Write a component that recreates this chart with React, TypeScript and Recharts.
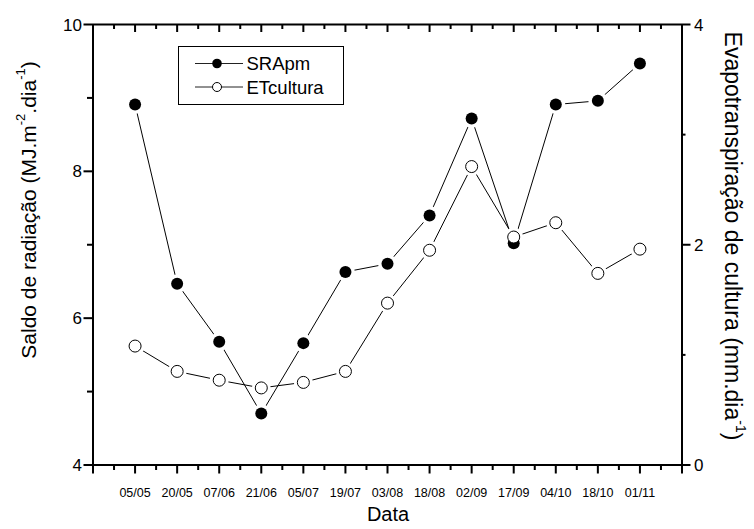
import React from 'react';
import { LineChart, Line, XAxis, YAxis, Legend } from 'recharts';

const dates = ['05/05', '20/05', '07/06', '21/06', '05/07', '19/07', '03/08', '18/08', '02/09', '17/09', '04/10', '18/10', '01/11'];
const sraPm = [8.91, 6.47, 5.68, 4.7, 5.66, 6.63, 6.74, 7.4, 8.72, 7.02, 8.91, 8.96, 9.47];
const etCultura = [1.08, 0.85, 0.77, 0.7, 0.75, 0.85, 1.47, 1.95, 2.71, 2.07, 2.2, 1.74, 1.96];
const leftTicks = [4, 5, 6, 7, 8, 9, 10];
const rightTicks = [0, 1, 2, 3, 4];
const legendItems = [
  { name: 'SRApm', filled: true },
  { name: 'ETcultura', filled: false },
];

const FONT = '"Liberation Sans", Arial, sans-serif';
const TW = 2; // tick / axis thickness

// categories sit at 0..12, the axis runs one step past each end, minor ticks at the halves
const xTicks: number[] = [];
for (let i = -2; i <= dates.length * 2; i++) xTicks.push(i / 2);

const data = dates.map((d, i) => ({ x: i, date: d, sra: sraPm[i], et: etCultura[i] }));

const bottomTick = (props: any) => {
  const x = Number(props.x);
  const y = Number(props.y);
  const v = props.payload.value;
  const major = Number.isInteger(v);
  const label = major && v >= 0 && v < dates.length ? dates[v] : '';
  return (
    <g key={`b${v}`}>
      <rect x={x - TW / 2} y={y} width={TW} height={major ? 8.5 : 5} fill="#000" />
      {label && (
        <text x={x} y={y + 32} textAnchor="middle" fontSize={12.5} fontFamily={FONT} fill="#000">
          {label}
        </text>
      )}
    </g>
  );
};

const topTick = (props: any) => {
  const x = Number(props.x);
  const y = Number(props.y);
  const major = Number.isInteger(props.payload.value);
  return <rect key={`t${props.payload.value}`} x={x - TW / 2} y={y} width={TW} height={major ? 7.5 : 4.5} fill="#000" />;
};

const leftTick = (props: any) => {
  const x = Number(props.x);
  const y = Number(props.y);
  const v = props.payload.value;
  const major = v % 2 === 0;
  const len = major ? 9.5 : 6;
  return (
    <g key={`l${v}`}>
      <rect x={x - len} y={y - TW / 2} width={len} height={TW} fill="#000" />
      {major && (
        <text x={x - 11} y={y + 6} textAnchor="end" fontSize={17} fontFamily={FONT} fill="#000">
          {v}
        </text>
      )}
    </g>
  );
};

const rightTick = (props: any) => {
  const x = Number(props.x);
  const y = Number(props.y);
  const v = props.payload.value;
  const major = v % 2 === 0;
  return (
    <g key={`r${v}`}>
      <rect x={x} y={y - TW / 2} width={major ? 8.5 : 3.5} height={TW} fill="#000" />
      {major && (
        <text x={x + 12} y={y + 6} textAnchor="start" fontSize={17} fontFamily={FONT} fill="#000">
          {v}
        </text>
      )}
    </g>
  );
};

const LeftTitle = () => (
  <text x={28} y={210} transform="rotate(-90 28 210)" textAnchor="middle" dominantBaseline="central" fontSize={21} fontFamily={FONT} fill="#000">
    Saldo de radiação (MJ.m<tspan dy={-8} fontSize={13}>-2</tspan>
    <tspan dy={8}>.dia</tspan>
    <tspan dy={-8} fontSize={13}>-1</tspan>
    <tspan dy={8}>)</tspan>
  </text>
);

const RightTitle = () => (
  <text x={733} y={236} transform="rotate(90 733 236)" textAnchor="middle" dominantBaseline="central" fontSize={23} fontFamily={FONT} fill="#000">
    Evapotranspiração de cultura (mm.dia<tspan dy={-8} fontSize={14}>-1</tspan>
    <tspan dy={8}>)</tspan>
  </text>
);

const XTitle = () => (
  <text x={388} y={521} textAnchor="middle" fontSize={20} fontFamily={FONT} fill="#000">
    Data
  </text>
);

// white ring under each marker so the lines stop short of the symbols
const Halo = (props: any) => {
  const { cx, cy, index } = props;
  return <circle key={`h${index}`} cx={cx} cy={cy} r={9.5} fill="#fff" />;
};
const FilledDot = (props: any) => {
  const { cx, cy, index } = props;
  return <circle key={`f${index}`} cx={cx} cy={cy} r={6} fill="#000" />;
};
const OpenDot = (props: any) => {
  const { cx, cy, index } = props;
  return <circle key={`o${index}`} cx={cx} cy={cy} r={6} fill="#fff" stroke="#000" strokeWidth={1} />;
};

const LegendBox = () => (
  <svg width={166} height={59} style={{ display: 'block' }}>
    <rect x={0.5} y={0.5} width={165} height={58} fill="#fff" stroke="#000" strokeWidth={1} />
    {legendItems.map((item, i) => {
      const cy = 17.5 + i * 23.5;
      return (
        <g key={item.name}>
          <line x1={17} x2={65} y1={cy} y2={cy} stroke="#222" strokeWidth={1} />
          {item.filled ? (
            <circle cx={39} cy={cy} r={4.8} fill="#000" />
          ) : (
            <circle cx={39} cy={cy} r={4.5} fill="#fff" stroke="#000" strokeWidth={1} />
          )}
          <text x={68.5} y={cy + 6.5} fontSize={18.5} fontFamily={FONT} fill="#000">
            {item.name}
          </text>
        </g>
      );
    })}
  </svg>
);

export default function App() {
  return (
    <div style={{ position: 'absolute', left: 0, top: 0, background: '#fff' }}>
      <LineChart width={754} height={529} data={data} margin={{ top: 0, right: 0, bottom: 0, left: 0 }}>
        <XAxis
          dataKey="x"
          type="number"
          domain={[-1, 13]}
          allowDataOverflow
          ticks={xTicks}
          interval={0}
          tickSize={0}
          tickMargin={0}
          tickLine={false}
          tick={bottomTick}
          height={64}
          axisLine={{ stroke: '#000', strokeWidth: TW }}
          label={<XTitle />}
        />
        <XAxis
          xAxisId="top"
          dataKey="x"
          orientation="top"
          type="number"
          domain={[-1, 13]}
          allowDataOverflow
          ticks={xTicks}
          interval={0}
          tickSize={0}
          tickMargin={0}
          tickLine={false}
          tick={topTick}
          height={24.5}
          axisLine={{ stroke: '#000', strokeWidth: TW }}
        />
        <YAxis
          yAxisId="left"
          type="number"
          domain={[4, 10]}
          ticks={leftTicks}
          interval={0}
          tickSize={0}
          tickMargin={0}
          tickLine={false}
          tick={leftTick}
          width={93}
          axisLine={{ stroke: '#000', strokeWidth: TW }}
          label={<LeftTitle />}
        />
        <YAxis
          yAxisId="right"
          orientation="right"
          type="number"
          domain={[0, 4]}
          ticks={rightTicks}
          interval={0}
          tickSize={0}
          tickMargin={0}
          tickLine={false}
          tick={rightTick}
          width={72}
          axisLine={{ stroke: '#000', strokeWidth: TW }}
          label={<RightTitle />}
        />
        <Legend
          layout="vertical"
          align="center"
          verticalAlign="middle"
          content={<LegendBox />}
          wrapperStyle={{ left: 178, top: 46, width: 166, height: 59 }}
        />
        <Line yAxisId="left" dataKey="sra" name="SRApm" stroke="#000" strokeWidth={1} dot={Halo} activeDot={false} isAnimationActive={false} legendType="none" />
        <Line yAxisId="right" dataKey="et" name="ETcultura" stroke="#000" strokeWidth={1} dot={Halo} activeDot={false} isAnimationActive={false} legendType="none" />
        <Line xAxisId="top" yAxisId="left" dataKey="sra" stroke="none" dot={FilledDot} activeDot={false} isAnimationActive={false} legendType="none" />
        <Line xAxisId="top" yAxisId="right" dataKey="et" stroke="none" dot={OpenDot} activeDot={false} isAnimationActive={false} legendType="none" />
      </LineChart>
    </div>
  );
}
